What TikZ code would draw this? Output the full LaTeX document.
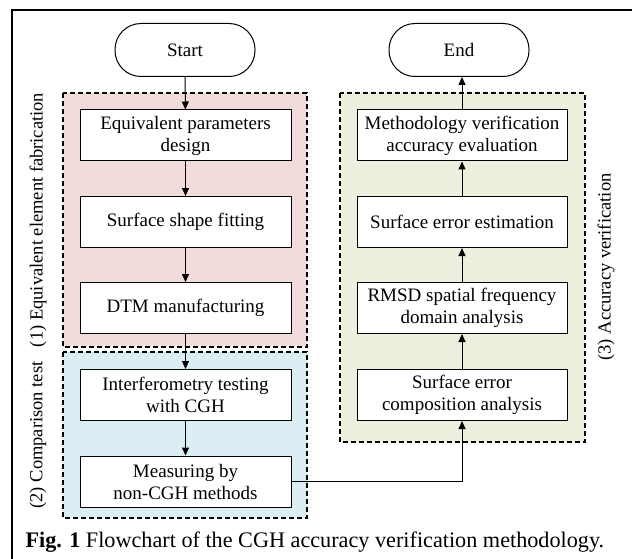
\documentclass[tikz,border=0pt]{standalone}
\usepackage{fontspec}
\setmainfont{Liberation Serif}
\usetikzlibrary{arrows.meta,positioning}
\definecolor{fabfill}{HTML}{F2DCDB}
\definecolor{cmpfill}{HTML}{DAEEF3}
\definecolor{accfill}{HTML}{EBF1DE}
\tikzset{
  x=1pt, y=-1pt,
  every node/.style={font=\fontsize{19}{22}\selectfont},
  procbox/.style={draw, line width=1pt, fill=white, minimum width=211pt, minimum height=51pt, align=center, inner sep=2pt},
  terminal/.style={draw, line width=1pt, fill=white, minimum width=140pt, minimum height=53pt, rounded corners=26pt},
  stage/.style={draw, line width=1.2pt, dash pattern=on 5pt off 3pt},
  flow/.style={line width=1pt, -{Triangle[length=8pt,width=7pt]}},
  stagelabel/.style={rotate=90, anchor=center, font=\fontsize{18.5}{22}\selectfont}
}
\begin{document}
\begin{tikzpicture}
\useasboundingbox (0,0) rectangle (632,559);
\fill[white] (0,0) rectangle (632,559);
% frame edges
\draw[line width=2pt] (12,559) -- (12,10) -- (632,10);

% stage backgrounds
\draw[stage, fill=fabfill] (63,93) rectangle (307,347);
\draw[stage, fill=cmpfill] (63,352) rectangle (307,518);
\draw[stage, fill=accfill] (340,93) rectangle (585,442);

% stage labels
\node[stagelabel] (lab1) at (38,220) {(1) Equivalent element fabrication};
\node[stagelabel] (lab2) at (38,435) {(2) Comparison test};
\node[stagelabel] (lab3) at (606,267) {(3) Accuracy verification};

% left column
\node[terminal] (start) at (185,50) {Start};
\node[procbox] (design) at (185.5,135.5) {Equivalent parameters\\design};
\node[procbox] (fit) at (185.5,222) {Surface shape fitting};
\node[procbox] (dtm) at (185.5,308) {DTM manufacturing};
\node[procbox] (interf) at (185.5,395) {Interferometry testing\\with CGH};
\node[procbox] (meas) at (185.5,481.5) {Measuring by\\non-CGH methods};

% right column
\node[terminal] (end) at (459,50) {End};
\node[procbox, minimum width=210pt] (eval) at (462,135.5) {Methodology verification\\accuracy evaluation};
\node[procbox, minimum width=210pt] (est) at (462,222) {Surface error estimation};
\node[procbox, minimum width=210pt] (rmsd) at (462,308) {RMSD spatial frequency\\domain analysis};
\node[procbox, minimum width=210pt] (comp) at (462,395) {Surface error\\composition analysis};

\coordinate (turn) at (462,481.5);

% connectors
\draw[flow] (start) -- (design);
\draw[flow] (design) -- (fit);
\draw[flow] (fit) -- (dtm);
\draw[flow] (dtm) -- (interf);
\draw[flow] (interf) -- (meas);
\draw[flow] (meas.east) -- (turn) -- (comp.south);
\draw[flow] (comp) -- (rmsd);
\draw[flow] (rmsd) -- (est);
\draw[flow] (est) -- (eval);
\draw[flow] (eval.north) -- (end.south -| eval.north);

% caption
\node[anchor=west, font=\fontsize{22.2}{26}\selectfont] (cap) at (22,542) {\textbf{Fig. 1} Flowchart of the CGH accuracy verification methodology.};
\end{tikzpicture}
\end{document}
